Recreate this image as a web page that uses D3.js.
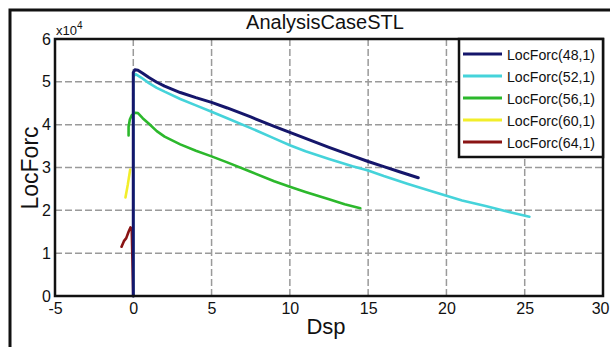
<!DOCTYPE html>
<html lang="en">
<head>
<meta charset="utf-8">
<script src="https://d3js.org/d3.v7.min.js"></script>
<style>
body { margin: 0; background: #fff; }
svg text { font-family: "Liberation Sans", Arial, sans-serif; fill: #111; }
</style>
</head>
<body>
<div id="chart"></div>
<script>
// data (Dsp, LocForc in units of 1e4)
var seriesNames = ["LocForc(48,1)", "LocForc(52,1)", "LocForc(56,1)", "LocForc(60,1)", "LocForc(64,1)"];
var seriesColors = ["#15166b", "#45d3da", "#2cb82c", "#f2ee2a", "#8a1414"];

var s48 = [[0,0],[0,5.22],[0.1,5.28],[0.3,5.27],[0.6,5.2],[1,5.1],[1.5,4.99],[2,4.9],[3,4.75],[4,4.63],[5,4.52],[6,4.39],[7.5,4.18],[9,3.96],[10,3.82],[11,3.68],[12.5,3.47],[14,3.27],[15,3.14],[16,3.02],[17,2.9],[18.2,2.76]];
var s52 = [[0,0],[0,5.12],[0.15,5.18],[0.5,5.1],[1,4.97],[1.5,4.86],[2,4.77],[3,4.6],[4,4.45],[5,4.3],[6,4.15],[7.5,3.92],[9,3.68],[10,3.52],[11,3.38],[12.5,3.2],[14,3.03],[15,2.93],[16,2.8],[17.5,2.62],[19,2.45],[20,2.34],[21,2.23],[22.5,2.1],[24,1.96],[25.3,1.85]];
var s56 = [[-0.3,3.75],[-0.3,3.95],[-0.22,4.12],[-0.1,4.22],[0.1,4.28],[0.3,4.27],[0.6,4.15],[1,4.02],[1.5,3.85],[2,3.72],[3,3.54],[4,3.39],[5,3.26],[6,3.12],[7.5,2.9],[9,2.68],[10,2.55],[11,2.43],[12.5,2.26],[13.5,2.14],[14.5,2.05]];
var s60 = [[-0.5,2.3],[-0.35,2.6],[-0.2,2.95]];
var s64 = [[-0.75,1.15],[-0.6,1.28],[-0.45,1.35],[-0.3,1.5],[-0.18,1.6],[-0.1,1.57],[0,0]];
var seriesData = [s48, s52, s56, s60, s64];

var xTicks = [-5, 0, 5, 10, 15, 20, 25, 30];
var yTicks = [0, 1, 2, 3, 4, 5, 6];

var width = 610, height = 347;
var pl = 55, pr = 603, pt = 39, pb = 296;

var svg = d3.select("#chart").append("svg")
  .attr("width", width)
  .attr("height", height);

// outer figure frame
svg.append("path")
  .attr("d", "M10," + height + "V10H" + width)
  .attr("fill", "none")
  .attr("stroke", "#111")
  .attr("stroke-width", 3);

var x = d3.scaleLinear().domain([-5, 30]).range([pl, pr]);
var y = d3.scaleLinear().domain([0, 6]).range([pb, pt]);

// grid
svg.append("g").selectAll("line")
  .data(xTicks.slice(1, -1))
  .enter().append("line")
  .attr("x1", d => x(d)).attr("x2", d => x(d))
  .attr("y1", pt).attr("y2", pb)
  .attr("stroke", "#9a9a9a").attr("stroke-width", 1.5)
  .attr("stroke-dasharray", "7,3");

svg.append("g").selectAll("line")
  .data(yTicks.slice(1, -1))
  .enter().append("line")
  .attr("x1", pl).attr("x2", pr)
  .attr("y1", d => y(d)).attr("y2", d => y(d))
  .attr("stroke", "#9a9a9a").attr("stroke-width", 1.5)
  .attr("stroke-dasharray", "7,3");

// axes
var xAxis = svg.append("g")
  .attr("transform", "translate(0," + pb + ")")
  .call(d3.axisBottom(x).tickValues(xTicks).tickFormat(d => String(d)).tickSize(0).tickPadding(7));
var yAxis = svg.append("g")
  .attr("transform", "translate(" + pl + ",0)")
  .call(d3.axisLeft(y).tickValues(yTicks).tickFormat(d => String(d)).tickSize(0).tickPadding(4));
[xAxis, yAxis].forEach(function(a) {
  a.select(".domain").remove();
  a.selectAll("text").style("font-size", "16px").attr("fill", "#111");
});
// last x label sits against the right edge
xAxis.selectAll(".tick text").filter(d => d == 30)
  .attr("text-anchor", "end").attr("x", 6);

// curves, last series first so the navy one sits on top
var line = d3.line()
  .x(d => x(d[0]))
  .y(d => y(d[1]));

var order = d3.range(seriesData.length).reverse();
svg.append("g").selectAll("path")
  .data(order)
  .enter().append("path")
  .attr("d", i => line(seriesData[i]))
  .attr("fill", "none")
  .attr("stroke", i => seriesColors[i])
  .attr("stroke-width", i => i == 0 ? 3 : 2.6)
  .attr("stroke-linejoin", "round")
  .attr("stroke-linecap", "round");

// plot box
svg.append("rect")
  .attr("x", pl).attr("y", pt)
  .attr("width", pr - pl).attr("height", pb - pt)
  .attr("fill", "none")
  .attr("stroke", "#111")
  .attr("stroke-width", 2.5);

// exponent label
var ex = svg.append("text")
  .attr("x", pl + 1).attr("y", pt - 4)
  .style("font-size", "13px");
ex.append("tspan").text("x10");
ex.append("tspan").attr("dy", -6).style("font-size", "10px").text("4");

// title and axis labels
svg.append("text")
  .attr("x", (pl + pr) / 2 - 4).attr("y", 29)
  .attr("text-anchor", "middle")
  .style("font-size", "20px")
  .text("AnalysisCaseSTL");

svg.append("text")
  .attr("x", 326).attr("y", 334)
  .attr("text-anchor", "middle")
  .style("font-size", "22px")
  .text("Dsp");

svg.append("text")
  .attr("transform", "translate(38,168) rotate(-90)")
  .attr("text-anchor", "middle")
  .style("font-size", "23px")
  .text("LocForc");

// legend
var lg = svg.append("g");
lg.append("rect")
  .attr("x", 459).attr("y", pt)
  .attr("width", pr - 459).attr("height", 118)
  .attr("fill", "#fff")
  .attr("stroke", "#111")
  .attr("stroke-width", 2.5);

var rows = lg.selectAll("g.row")
  .data(seriesNames)
  .enter().append("g")
  .attr("class", "row")
  .attr("transform", (d, i) => "translate(0," + (54 + i * 22) + ")");
rows.append("line")
  .attr("x1", 463).attr("x2", 502)
  .attr("stroke", (d, i) => seriesColors[i])
  .attr("stroke-width", 3);
rows.append("text")
  .attr("x", 507).attr("y", 6)
  .attr("textLength", 88)
  .attr("lengthAdjust", "spacingAndGlyphs")
  .style("font-size", "15px")
  .text(d => d);
</script>
</body>
</html>
